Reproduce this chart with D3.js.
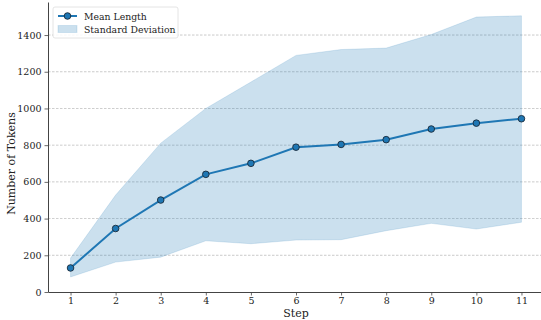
<!DOCTYPE html>
<html>
<head>
<meta charset="utf-8">
<script src="https://cdn.jsdelivr.net/npm/d3@7"></script>
<style>
  body { margin: 0; background: #fff; }
  svg text { font-family: "DejaVu Serif", serif; fill: #222; }
</style>
</head>
<body>
<div class="chart"></div>
<script>
// datos
const steps = [1, 2, 3, 4, 5, 6, 7, 8, 9, 10, 11];
const meanLength = [131, 346, 501, 641, 701, 789, 804, 830, 888, 920, 944];
const upper = [185, 528, 811, 1000, 1144, 1289, 1321, 1329, 1403, 1498, 1505];
const lower = [82, 163, 190, 279, 263, 283, 285, 334, 374, 343, 380];
const yTicks = [0, 200, 400, 600, 800, 1000, 1200, 1400];

const W = 541, H = 320;
const margin = { top: 2, right: -3, bottom: 28, left: 48 };
const width = W - margin.left - margin.right;
const height = H - margin.top - margin.bottom;

const color = '#1f77b4';

const x = d3.scaleLinear().domain([0.5, 11.5]).range([0, width]);
const y = d3.scaleLinear().domain([0, 1580]).range([height, 0]);

const svg = d3.select('.chart')
  .append('svg')
  .attr('width', W)
  .attr('height', H)
  .append('g')
  .attr('transform', `translate(${margin.left}, ${margin.top})`);

// rejilla horizontal
svg.append('g')
  .selectAll('line')
  .data(yTicks.slice(1))
  .join('line')
  .attr('x1', 0).attr('x2', width)
  .attr('y1', d => y(d)).attr('y2', d => y(d))
  .attr('stroke', '#b0b0b0')
  .attr('stroke-width', 0.8)
  .attr('stroke-dasharray', '2.5,1.5')
  .attr('opacity', 0.8);

// banda de desviación estándar
const data = steps.map((s, i) => ({ s, m: meanLength[i], lo: lower[i], hi: upper[i] }));

svg.append('path')
  .datum(data)
  .attr('fill', color)
  .attr('fill-opacity', 0.23)
  .attr('stroke', color)
  .attr('stroke-opacity', 0.15)
  .attr('d', d3.area().x(d => x(d.s)).y0(d => y(d.lo)).y1(d => y(d.hi)));

// línea de la media
svg.append('path')
  .datum(data)
  .attr('fill', 'none')
  .attr('stroke', color)
  .attr('stroke-width', 2)
  .attr('d', d3.line().x(d => x(d.s)).y(d => y(d.m)));

svg.append('g')
  .selectAll('circle')
  .data(data)
  .join('circle')
  .attr('cx', d => x(d.s))
  .attr('cy', d => y(d.m))
  .attr('r', 3.3)
  .attr('fill', color)
  .attr('stroke', '#1a2a3a')
  .attr('stroke-width', 0.9);

// ejes
const xAxis = svg.append('g')
  .attr('transform', `translate(0, ${height})`)
  .call(d3.axisBottom(x).tickValues(steps).tickFormat(d3.format('d')).tickSize(3.5).tickPadding(2).tickSizeOuter(0));

const yAxis = svg.append('g')
  .call(d3.axisLeft(y).tickValues(yTicks).tickFormat(d3.format('d')).tickSize(3.5).tickPadding(3).tickSizeOuter(0));

[xAxis, yAxis].forEach(a => {
  a.select('.domain').attr('stroke', '#444').attr('stroke-width', 1);
  a.selectAll('.tick line').attr('stroke', '#444').attr('stroke-width', 0.8);
  a.selectAll('.tick text').attr('font-size', 9.5).attr('font-family', '"DejaVu Serif", serif').attr('fill', '#222');
});

svg.append('text')
  .attr('x', x(6))
  .attr('y', height + 25)
  .attr('text-anchor', 'middle')
  .attr('font-size', 11)
  .text('Step');

svg.append('text')
  .attr('transform', `translate(${-33}, ${y(700)}) rotate(-90)`)
  .attr('text-anchor', 'middle')
  .attr('font-size', 11)
  .text('Number of Tokens');

// leyenda
const lg = svg.append('g').attr('transform', 'translate(5, 5)');
lg.append('rect')
  .attr('width', 125).attr('height', 31)
  .attr('rx', 2)
  .attr('fill', '#fff').attr('fill-opacity', 0.85)
  .attr('stroke', '#ddd').attr('stroke-width', 0.8);
lg.append('line')
  .attr('x1', 5).attr('x2', 24).attr('y1', 9).attr('y2', 9)
  .attr('stroke', color).attr('stroke-width', 2);
lg.append('circle')
  .attr('cx', 14.5).attr('cy', 9).attr('r', 3.3)
  .attr('fill', color).attr('stroke', '#1a2a3a').attr('stroke-width', 0.9);
lg.append('rect')
  .attr('x', 5).attr('y', 18.5).attr('width', 19).attr('height', 7)
  .attr('fill', color).attr('fill-opacity', 0.23)
  .attr('stroke', color).attr('stroke-opacity', 0.15);
lg.append('text').attr('x', 31).attr('y', 12.5).attr('font-size', 9.3).text('Mean Length');
lg.append('text').attr('x', 31).attr('y', 26).attr('font-size', 9.3).text('Standard Deviation');
</script>
</body>
</html>
